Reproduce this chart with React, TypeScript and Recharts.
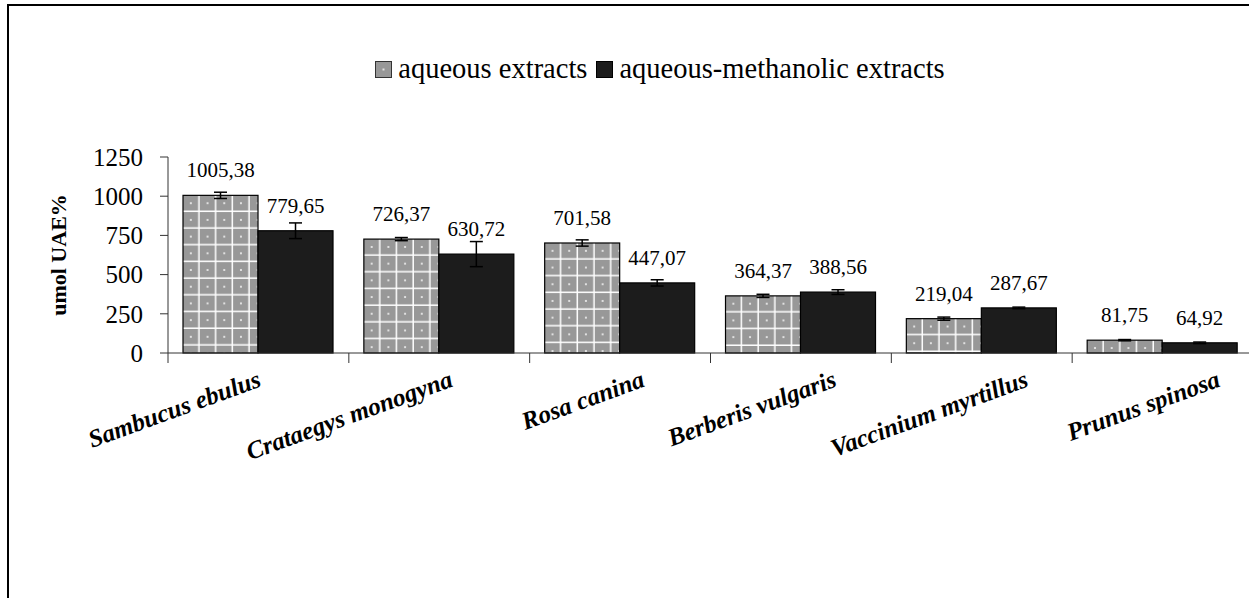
import React from 'react';
import { BarChart, Bar, XAxis, YAxis, ErrorBar, LabelList, Legend, Label } from 'recharts';

const categories = ['Sambucus ebulus', 'Crataegys monogyna', 'Rosa canina', 'Berberis vulgaris', 'Vaccinium myrtillus', 'Prunus spinosa'];
const aqueous = [1005.38, 726.37, 701.58, 364.37, 219.04, 81.75];
const aqueousErr = [20, 10, 20, 10, 10, 4];
const methanolic = [779.65, 630.72, 447.07, 388.56, 287.67, 64.92];
const methanolicErr = [50, 80, 20, 15, 5, 5];
const yTicks = [0, 250, 500, 750, 1000, 1250];

const FONT = '"Liberation Serif", "Times New Roman", serif';
const GRAY = '#989898';
const DARK = '#1c1c1c';
const CELL = 16.7;

if (typeof document !== 'undefined') {
    document.body.style.margin = '0';
    document.body.style.overflow = 'hidden';
    document.body.style.background = '#fff';
}

const data = categories.map((name, i) => ({
    name,
    aqueous: aqueous[i],
    aqueousErr: aqueousErr[i],
    methanolic: methanolic[i],
    methanolicErr: methanolicErr[i],
}));

const fmt = (v: number) => v.toFixed(2).replace('.', ',');

function PatternBar(props: any) {
    const { x, y, width, height, index } = props;
    if (!height || height <= 0) return null;
    const id = `aq-pattern-${index}`;
    return (
        <g>
            <defs>
                <pattern id={id} x={x} y={y} width={CELL} height={CELL} patternUnits="userSpaceOnUse">
                    <rect width={CELL} height={CELL} fill={GRAY} />
                    <rect x={CELL - 1.5} y={0} width={1.5} height={CELL} fill="#fff" />
                    <rect x={0} y={CELL - 1.5} width={CELL} height={1.5} fill="#fff" />
                    <rect x={CELL / 2 - 1.5} y={CELL / 2 - 1.5} width={2} height={2} fill="#e0e0e0" />
                </pattern>
            </defs>
            <rect x={x} y={y} width={width} height={height} fill={`url(#${id})`} stroke="#000" strokeWidth={1.2} />
        </g>
    );
}

function DarkBar(props: any) {
    const { x, y, width, height } = props;
    if (!height || height <= 0) return null;
    return <rect x={x} y={y} width={width} height={height} fill={DARK} stroke="#000" strokeWidth={1.2} />;
}

function ValueLabel(props: any) {
    const { x, y, width, value } = props;
    return (
        <text x={x + width / 2} y={y - 18} textAnchor="middle" fontFamily={FONT} fontSize={21} fill="#000">
            {fmt(value)}
        </text>
    );
}

function CategoryTick(props: any) {
    const { x, y, payload, index } = props;
    const half = payload.offset ?? 90.4;
    const tx = x + 4 + index * 11;
    const ty = y + 33;
    return (
        <g>
            <line x1={x - half} y1={y} x2={x - half} y2={y + 10} stroke="#333" strokeWidth={1} />
            <text
                x={tx}
                y={ty}
                transform={`rotate(-20 ${tx} ${ty})`}
                textAnchor="end"
                fontFamily={FONT}
                fontSize={25}
                fontWeight="bold"
                fontStyle="italic"
                fill="#000"
            >
                {payload.value}
            </text>
        </g>
    );
}

function YTitle(props: any) {
    const { viewBox } = props;
    const cx = viewBox.x - 30;
    const cy = viewBox.y + viewBox.height / 2;
    return (
        <text
            x={cx}
            y={cy}
            transform={`rotate(-90 ${cx} ${cy})`}
            textAnchor="middle"
            dominantBaseline="central"
            fontFamily={FONT}
            fontSize={22}
            fontWeight="bold"
            fill="#000"
        >
            umol UAE%
        </text>
    );
}

function LegendContent() {
    const item = (swatch: React.ReactNode, text: string, gap: number) => (
        <span style={{ display: 'inline-flex', alignItems: 'center', marginRight: gap }}>
            <svg width={17} height={17} style={{ marginRight: 6 }}>
                {swatch}
            </svg>
            <span>{text}</span>
        </span>
    );
    return (
        <div
            style={{
                display: 'flex',
                justifyContent: 'center',
                paddingLeft: 71,
                fontFamily: FONT,
                fontSize: 28.5,
                color: '#000',
                lineHeight: '32px',
            }}
        >
            {item(
                <g>
                    <rect x={0.5} y={0.5} width={16} height={16} fill={GRAY} stroke="#333" />
                    <rect x={7.5} y={7.5} width={2} height={2} fill="#e0e0e0" />
                </g>,
                'aqueous extracts',
                9
            )}
            {item(<rect x={0.5} y={0.5} width={16} height={16} fill={DARK} stroke="#000" />, 'aqueous-methanolic extracts', 0)}
        </div>
    );
}

export default function App() {
    return (
        <div style={{ position: 'relative', width: 1249, height: 598, overflow: 'hidden', background: '#fff' }}>
            <div
                style={{
                    position: 'absolute',
                    left: 7,
                    top: 4,
                    width: 1400,
                    height: 800,
                    borderLeft: '2px solid #000',
                    borderTop: '2px solid #000',
                    boxSizing: 'border-box',
                }}
            />
            <div style={{ position: 'absolute', left: 0, top: 0 }}>
                <BarChart
                    width={1249}
                    height={598}
                    data={data}
                    margin={{ top: 157, right: -4, bottom: 215, left: 88 }}
                    barCategoryGap="8.3%"
                    barGap={0}
                >
                    <Legend verticalAlign="middle" align="center" layout="horizontal" wrapperStyle={{ top: 53, left: 0, width: 1249 }} content={() => <LegendContent />} />
                    <XAxis
                        dataKey="name"
                        height={30}
                        tickLine={false}
                        tickSize={0}
                        tickMargin={0}
                        axisLine={{ stroke: '#333' }}
                        tick={<CategoryTick />}
                        interval={0}
                    />
                    <YAxis
                        width={80}
                        domain={[0, 1250]}
                        ticks={yTicks}
                        interval={0}
                        tickSize={8}
                        tickMargin={17}
                        axisLine={{ stroke: '#333' }}
                        tickLine={{ stroke: '#333' }}
                        tick={{ fontFamily: FONT, fontSize: 25, fill: '#000' }}
                    >
                        <Label content={<YTitle />} />
                    </YAxis>
                    <Bar dataKey="aqueous" name="aqueous extracts" shape={<PatternBar />} isAnimationActive={false}>
                        <ErrorBar dataKey="aqueousErr" width={6.5} stroke="#000" strokeWidth={1.5} />
                        <LabelList dataKey="aqueous" content={<ValueLabel />} />
                    </Bar>
                    <Bar dataKey="methanolic" name="aqueous-methanolic extracts" shape={<DarkBar />} isAnimationActive={false}>
                        <ErrorBar dataKey="methanolicErr" width={6.5} stroke="#000" strokeWidth={1.5} />
                        <LabelList dataKey="methanolic" content={<ValueLabel />} />
                    </Bar>
                </BarChart>
            </div>
        </div>
    );
}
